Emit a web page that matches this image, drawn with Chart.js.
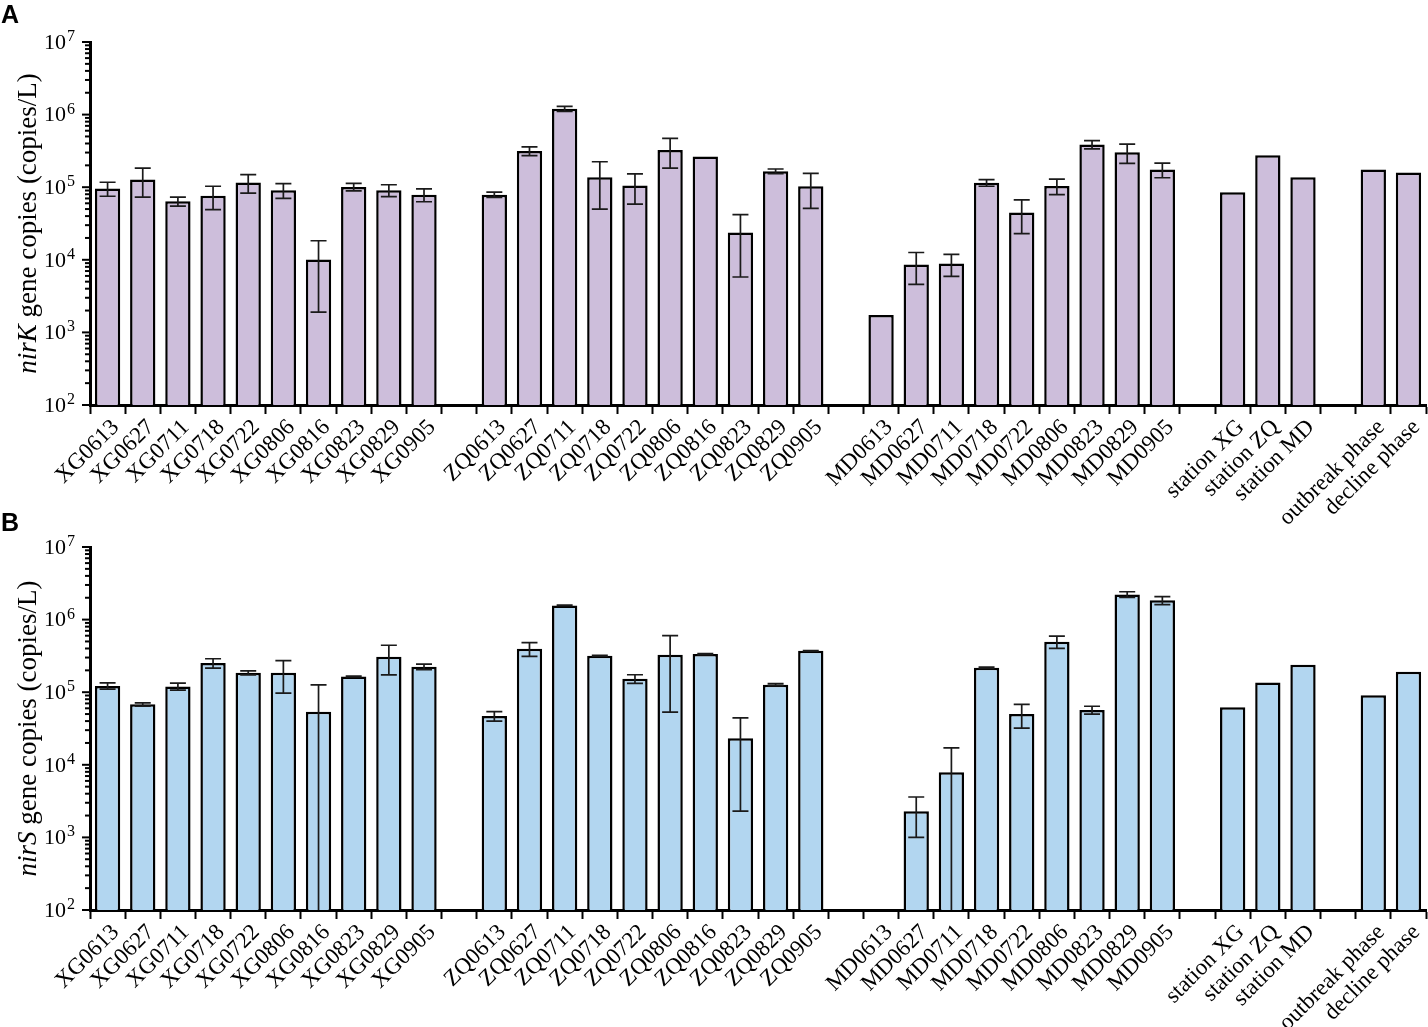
<!DOCTYPE html>
<html>
<head>
<meta charset="utf-8">
<script src="https://cdn.jsdelivr.net/npm/chart.js@4.4.1/dist/chart.umd.min.js"></script>
<style>
  body { margin: 0; background: #fff; overflow: hidden; }
  #wrap { position: relative; width: 1428px; height: 1027px; }
  .panel { position: absolute; left: 0; width: 1428px; }
  .tag { position: absolute; left: 1px; font: bold 25px "Liberation Sans", Arial, sans-serif; color: #000; }
</style>
</head>
<body>
<div id="wrap">
  <div class="panel" style="top:0;height:540px"><canvas id="chartA"></canvas></div>
  <div class="panel" style="top:505px;height:522px"><canvas id="chartB"></canvas></div>
  <div class="tag" style="top:0px">A</div>
  <div class="tag" style="top:508px">B</div>
</div>
<script>
// ------------------------------------------------------------------
//      DADOS
// ------------------------------------------------------------------

// categorias ('' = espaço entre grupos)
const labels = [
  'XG0613', 'XG0627', 'XG0711', 'XG0718', 'XG0722', 'XG0806', 'XG0816', 'XG0823', 'XG0829', 'XG0905', '',
  'ZQ0613', 'ZQ0627', 'ZQ0711', 'ZQ0718', 'ZQ0722', 'ZQ0806', 'ZQ0816', 'ZQ0823', 'ZQ0829', 'ZQ0905', '',
  'MD0613', 'MD0627', 'MD0711', 'MD0718', 'MD0722', 'MD0806', 'MD0823', 'MD0829', 'MD0905', '',
  'station XG', 'station ZQ', 'station MD', '',
  'outbreak phase', 'decline phase'
];

// nirK (copies/L)
const nirKMean = [
  9.6e4, 1.28e5, 6.4e4, 7.6e4, 1.16e5, 9.1e4, 1.01e4, 1.01e5, 9.1e4, 7.9e4, null,
  7.9e4, 3.16e5, 1.2e6, 1.37e5, 1.055e5, 3.26e5, 2.64e5, 2.38e4, 1.66e5, 1.03e5, null,
  1.73e3, 8.6e3, 8.9e3, 1.15e5, 4.5e4, 1.04e5, 3.87e5, 3.03e5, 1.75e5, null,
  8.5e4, 2.75e5, 1.37e5, null,
  1.75e5, 1.59e5
];
const nirKSd = [
  2.1e4, 5.5e4, 9e3, 2.7e4, 3.3e4, 2.1e4, 8.2e3, 1.2e4, 1.7e4, 1.6e4, 0,
  6.5e3, 4.3e4, 9.5e4, 8.7e4, 4.7e4, 1.43e5, 0, 1.8e4, 1.2e4, 5.2e4, 0,
  0, 4e3, 3e3, 1.2e4, 2.2e4, 2.5e4, 5e4, 9e4, 4e4, 0,
  0, 0, 0, 0,
  0, 0
];

// nirS (copies/L)
const nirSMean = [
  1.22e5, 6.8e4, 1.2e5, 2.52e5, 1.85e5, 1.85e5, 5.4e4, 1.65e5, 3.08e5, 2.24e5, null,
  4.7e4, 3.97e5, 1.57e6, 3.18e5, 1.53e5, 3.28e5, 3.35e5, 2.33e4, 1.27e5, 3.72e5, null,
  null, 2.3e3, 7.9e3, 2.17e5, 5.0e4, 4.96e5, 5.7e4, 2.22e6, 1.84e6, null,
  6.2e4, 1.36e5, 2.39e5, null,
  9.1e4, 1.91e5
];
const nirSSd = [
  1.2e4, 3.5e3, 1.3e4, 3.7e4, 1.2e4, 8.8e4, 7.2e4, 2e3, 1.35e5, 2e4, 0,
  7e3, 8.5e4, 1.5e4, 5e3, 2.1e4, 2.75e5, 6e3, 2.1e4, 4e3, 3e3, 0,
  0, 1.3e3, 9.2e3, 4e3, 1.8e4, 9.5e4, 7e3, 2e5, 2.3e5, 0,
  0, 0, 0, 0,
  0, 0
];

// eixo y (log)
const yMin = 1e2;
const yMax = 1e7;

// ------------------------------------------------------------------

const serif = '"Liberation Serif", "Times New Roman", serif';

// Barras de erro (média ± DP)
const errorBarsPlugin = {
  id: 'errorBars',
  afterDatasetsDraw(chart, args, opts) {
    const ctx = chart.ctx;
    const y = chart.scales.y;
    const meta = chart.getDatasetMeta(0);
    const means = chart.data.datasets[0].data;
    ctx.save();
    ctx.strokeStyle = '#1a1a1a';
    ctx.lineWidth = 1.7;
    meta.data.forEach((bar, i) => {
      const m = means[i];
      const s = opts.sd[i];
      if (m == null || !s) return;
      const x = bar.x;
      const yTop = y.getPixelForValue(m + s);
      const lo = m - s;
      const yBot = lo > y.min ? y.getPixelForValue(lo) : y.bottom;
      ctx.beginPath();
      ctx.moveTo(x, yTop);
      ctx.lineTo(x, yBot);
      ctx.moveTo(x - 8, yTop);
      ctx.lineTo(x + 8, yTop);
      if (lo > y.min) {
        ctx.moveTo(x - 8, yBot);
        ctx.lineTo(x + 8, yBot);
      }
      ctx.stroke();
    });
    ctx.restore();
  }
};

// Eixo y: marcas menores/maiores, rótulos 10^n e título com nome do gene em itálico
const logAxisPlugin = {
  id: 'logAxis',
  afterDraw(chart, args, opts) {
    const ctx = chart.ctx;
    const y = chart.scales.y;
    const left = chart.chartArea.left;
    ctx.save();
    ctx.strokeStyle = '#000';
    ctx.fillStyle = '#000';
    ctx.lineWidth = 2;
    for (let e = 2; e <= 7; e++) {
      for (let k = 1; k <= 9; k++) {
        const v = k * Math.pow(10, e);
        if (v > yMax) break;
        const py = y.getPixelForValue(v);
        const len = k === 1 ? 8 : 5;
        ctx.beginPath();
        ctx.moveTo(left - len, py);
        ctx.lineTo(left, py);
        ctx.stroke();
        if (k === 1) {
          ctx.font = '16px ' + serif;
          ctx.textAlign = 'right';
          ctx.textBaseline = 'alphabetic';
          const ex = String(e);
          const exW = ctx.measureText(ex).width;
          ctx.fillText(ex, left - 15, py - 1);
          ctx.font = '22px ' + serif;
          ctx.textBaseline = 'middle';
          ctx.fillText('10', left - 16 - exW, py + 1);
        }
      }
    }
    // título
    const cy = (y.top + y.bottom) / 2;
    const rest = ' gene copies (copies/L)';
    ctx.translate(29, cy);
    ctx.rotate(-Math.PI / 2);
    ctx.textBaseline = 'middle';
    ctx.textAlign = 'left';
    ctx.font = 'italic 27px ' + serif;
    const w1 = ctx.measureText(opts.gene).width;
    ctx.font = '27px ' + serif;
    const w2 = ctx.measureText(rest).width;
    let x0 = -(w1 + w2) / 2;
    ctx.font = 'italic 27px ' + serif;
    ctx.fillText(opts.gene, x0, 0);
    ctx.font = '27px ' + serif;
    ctx.fillText(rest, x0 + w1, 0);
    ctx.restore();
  }
};

function initGeneChart(id, gene, means, sds, fill) {
  const ctx = document.getElementById(id).getContext('2d');
  return new Chart(ctx, {
    type: 'bar',
    data: {
      labels: labels,
      datasets: [{
        label: gene,
        data: means,
        backgroundColor: fill,
        borderColor: '#000',
        borderWidth: 2.5,
        borderSkipped: 'bottom',
        categoryPercentage: 1.0,
        barPercentage: 0.72
      }]
    },
    options: {
      responsive: true,
      maintainAspectRatio: false,
      animation: false,
      layout: { padding: { top: 42, left: 0, right: 1, bottom: 0 } },
      plugins: {
        legend: { display: false },
        tooltip: { enabled: false },
        errorBars: { sd: sds },
        logAxis: { gene: gene }
      },
      scales: {
        x: {
          offset: true,
          grid: {
            display: true,
            drawOnChartArea: false,
            offset: true,
            tickLength: 9,
            tickWidth: 2,
            tickColor: '#000'
          },
          border: { display: true, width: 3, color: '#000' },
          ticks: {
            autoSkip: false,
            maxRotation: 45,
            minRotation: 45,
            padding: 0,
            labelOffset: 8,
            color: '#000',
            font: { family: serif, size: 23 }
          },
          // eixo x termina sempre em y = 405 dentro do painel
          afterFit: (scale) => { scale.height = scale.chart.height - 405; }
        },
        y: {
          type: 'logarithmic',
          min: yMin,
          max: yMax,
          grid: { display: false },
          border: { display: true, width: 3, color: '#000' },
          ticks: { display: false, autoSkip: false },
          afterFit: (scale) => { scale.width = 90; }
        }
      }
    },
    plugins: [errorBarsPlugin, logAxisPlugin]
  });
}

window.addEventListener('load', onload);

function onload(event) {
  initGeneChart('chartA', 'nirK', nirKMean, nirKSd, '#cdbedb');
  initGeneChart('chartB', 'nirS', nirSMean, nirSSd, '#b2d6f0');
}
</script>
</body>
</html>
